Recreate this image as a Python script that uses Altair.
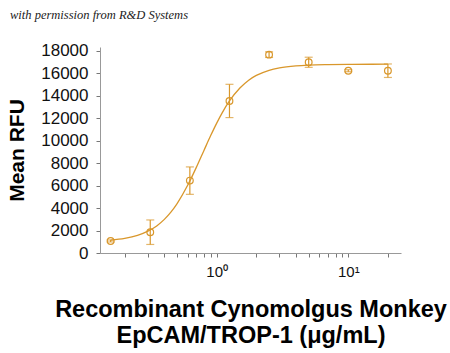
import altair as alt
import pandas as pd

# measured points
conc = [0.15625, 0.3125, 0.625, 1.25, 2.5, 5, 10, 20]
mean_rfu = [1070, 1850, 6440, 13530, 17650, 16970, 16220, 16220]
sd_rfu = [90, 1090, 1220, 1480, 250, 450, 90, 600]

# fitted curve
curve_x = [0.156, 0.2, 0.25, 0.3, 0.35, 0.4, 0.45, 0.5, 0.6, 0.7, 0.8, 0.9, 1.0,
           1.1, 1.25, 1.5, 1.75, 2, 2.5, 3, 4, 5, 7, 10, 15, 20]
curve_y = [1150, 1300, 1570, 1950, 2410, 2990, 3655, 4400, 6000, 7620, 9130, 10450,
           11560, 12470, 13530, 14680, 15380, 15800, 16260, 16475, 16655, 16725,
           16770, 16790, 16797, 16800]

x_ticks = [0.2, 0.3, 0.4, 0.5, 0.6, 0.7, 0.8, 0.9, 1, 2, 3, 4, 5, 6, 7, 8, 9, 10, 20]
y_ticks = [0, 2000, 4000, 6000, 8000, 10000, 12000, 14000, 16000, 18000]

COLOR = "#D9972B"

pts = pd.DataFrame({"conc": conc, "mean": mean_rfu, "sd": sd_rfu})
pts["lo"] = pts["mean"] - pts["sd"]
pts["hi"] = pts["mean"] + pts["sd"]
cur = pd.DataFrame({"conc": curve_x, "rfu": curve_y})

xscale = alt.Scale(type="log", domain=[0.1297, 25.15], nice=False)
yscale = alt.Scale(domain=[0, 18330], nice=False, zero=False)

xaxis = alt.Axis(
    values=x_ticks,
    labelExpr="datum.value == 1 ? '10⁰' : (datum.value == 10 ? '10¹' : '')",
    labelOverlap=False,
    labelFontSize=15,
    labelPadding=7,
    tickSize=4,
    grid=False,
    title=["Recombinant Cynomolgus Monkey", "EpCAM/TROP-1 (μg/mL)"],
    titleFontSize=23.5,
    titleFontWeight="bold",
    titleLineHeight=26,
    titlePadding=18,
)
yaxis = alt.Axis(
    values=y_ticks,
    format="d",
    labelFontSize=17,
    labelPadding=8,
    labelOverlap=False,
    tickSize=4,
    grid=False,
    title="Mean RFU",
    titleFontSize=21,
    titleFontWeight="bold",
    titlePadding=13,
)


def X():
    return alt.X("conc:Q", scale=xscale, axis=xaxis)


def Y(field):
    return alt.Y(field, scale=yscale, axis=yaxis)


line = alt.Chart(cur).mark_line(color=COLOR, strokeWidth=1.3, interpolate="monotone").encode(
    x=X(), y=Y("rfu:Q"),
)

base = alt.Chart(pts)
rules = base.mark_rule(color=COLOR, strokeWidth=1.2).encode(
    x=X(), y=Y("lo:Q"), y2="hi:Q",
)
cap_lo = base.mark_tick(color=COLOR, orient="horizontal", size=8, thickness=1.2).encode(
    x=X(), y=Y("lo:Q"),
)
cap_hi = base.mark_tick(color=COLOR, orient="horizontal", size=8, thickness=1.2).encode(
    x=X(), y=Y("hi:Q"),
)
points = base.mark_point(shape="circle", filled=False, color=COLOR, size=45, strokeWidth=1.2, opacity=1).encode(
    x=X(), y=Y("mean:Q"),
)

chart = alt.layer(line, rules, cap_lo, cap_hi, points).properties(
    width=301,
    height=206,
    background="white",
    autosize=alt.AutoSizeParams(type="none"),
    padding={"left": 100, "top": 47, "right": 49, "bottom": 100},
    title=alt.TitleParams(
        "with permission from R&D Systems",
        anchor="start",
        frame="group",
        font="Liberation Serif",
        fontStyle="italic",
        fontWeight="normal",
        fontSize=12.5,
        color="#222222",
        dx=-90,
        offset=20,
    ),
).configure_view(stroke=None).configure_axis(
    grid=False,
    domainColor="#999999",
    tickColor="#777777",
    labelColor="#111111",
    titleColor="#000000",
    labelFont="Liberation Sans",
    titleFont="Liberation Sans",
)

chart.save("out.html", embed_options={"renderer": "svg", "actions": False})
